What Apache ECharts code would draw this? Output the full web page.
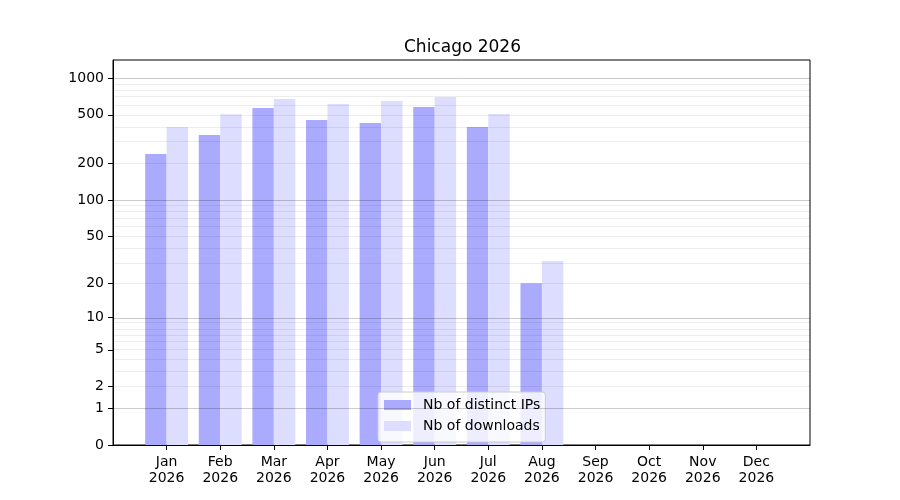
<!DOCTYPE html>
<html>
<head>
<meta charset="utf-8">
<script src="https://cdn.jsdelivr.net/npm/echarts@6/dist/echarts.min.js"></script>
<style>html,body{margin:0;padding:0;background:#fff}#c{width:900px;height:500px}</style>
</head>
<body>
<div id="c"></div>
<script>
const titleText = 'Chicago 2026';
const months = ['Jan','Feb','Mar','Apr','May','Jun','Jul','Aug','Sep','Oct','Nov','Dec'];
const year = '2026';
const distinctIPs = [239, 342, 569, 453, 429, 580, 398, 20, 0, 0, 0, 0];
const downloads = [398, 505, 675, 613, 649, 700, 508, 31, 0, 0, 0, 0];
const yTicks = [0, 1, 2, 5, 10, 20, 50, 100, 200, 500, 1000];
const majorGrid = [1, 10, 100, 1000];
const minorGrid = [2,3,4,5,6,7,8,9,20,30,40,50,60,70,80,90,200,300,400,500,600,700,800,900];
const yMaxValue = 1405;

const tf = v => Math.log10(1 + v);
const FONT = 'DejaVu Sans';
const cats = [''].concat(months.map(m => m + '\n' + year)).concat(['']);
const pad = arr => [null].concat(arr.map(tf)).concat([null]);

const gridLines = majorGrid.map(v => ({yAxis: tf(v), lineStyle: {color: 'rgba(0,0,0,0.2)', width: 1, type: 'solid'}}))
  .concat(minorGrid.map(v => ({yAxis: tf(v), lineStyle: {color: 'rgba(0,0,0,0.07)', width: 1, type: 'solid'}})));

const chart = echarts.init(document.getElementById('c'), null, {renderer: 'canvas'});
chart.setOption({
  animation: false,
  backgroundColor: '#fff',
  title: {
    text: titleText,
    left: 399, top: 34,
    textStyle: {fontFamily: FONT, fontSize: 17, fontWeight: 'normal', color: '#000'}
  },
  legend: {
    orient: 'vertical',
    left: 378, top: 392,
    itemWidth: 27, itemHeight: 10, itemGap: 7,
    icon: 'rect',
    padding: [6, 5, 9, 6],
    backgroundColor: 'rgba(255,255,255,0.8)',
    borderColor: '#cccccc', borderWidth: 1, borderRadius: 3,
    textStyle: {fontFamily: FONT, fontSize: 14, color: '#000', padding: [0, 0, 0, 7]},
    data: ['Nb of distinct IPs', 'Nb of downloads']
  },
  grid: {left: 113, right: 90, top: 60, bottom: 55, show: true, borderColor: '#000', borderWidth: 1, containLabel: false},
  xAxis: {
    type: 'category',
    data: cats,
    boundaryGap: false,
    axisLine: {lineStyle: {color: '#000', width: 1}},
    axisTick: {length: 5, lineStyle: {color: '#000'}, interval: (i, v) => v !== ''},
    axisLabel: {interval: 0, fontFamily: FONT, fontSize: 14, color: '#000', lineHeight: 16, margin: 9},
    splitLine: {show: false}
  },
  yAxis: {
    type: 'value',
    min: 0, max: tf(yMaxValue),
    axisLine: {show: true, lineStyle: {color: '#000', width: 1}},
    axisTick: {show: true, length: 5, lineStyle: {color: '#000'}, customValues: yTicks.map(tf)},
    axisLabel: {fontFamily: FONT, fontSize: 14, color: '#000', margin: 9, padding: [2, 0, 0, 0], customValues: yTicks.map(tf),
      formatter: v => String(Math.round(Math.pow(10, v) - 1))},
    splitLine: {show: false}
  },
  series: [
    {name: 'Nb of distinct IPs', type: 'bar', data: pad(distinctIPs), barWidth: '40%', barGap: '0%',
     itemStyle: {color: '#aaaaff'}},
    {name: 'Nb of downloads', type: 'bar', data: pad(downloads), barWidth: '40%', barGap: '0%',
     itemStyle: {color: '#ddddff'}},
    {name: 'grid', type: 'line', data: [], z: 5, silent: true,
     markLine: {silent: true, symbol: ['none', 'none'], label: {show: false}, animation: false, data: gridLines}}
  ]
});
</script>
</body>
</html>
